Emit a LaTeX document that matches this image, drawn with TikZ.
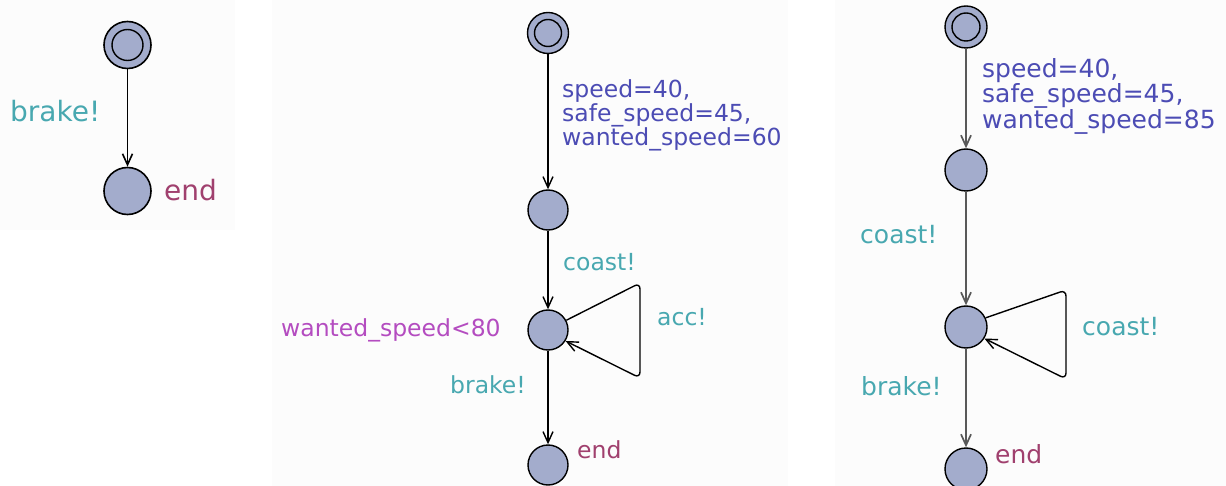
\documentclass[tikz,border=0pt]{standalone}
\usepackage{fontspec}
\setmainfont{DejaVu Sans}
\usetikzlibrary{arrows.meta}
\definecolor{locfill}{RGB}{163,172,204}
\definecolor{syncc}{RGB}{72,168,176}
\definecolor{assignc}{RGB}{76,76,180}
\definecolor{invc}{RGB}{180,76,192}
\definecolor{namec}{RGB}{160,64,110}
\definecolor{panel}{RGB}{252,252,252}
\tikzstyle{loc}=[circle,draw,fill=locfill,line width=1.4pt,minimum size=40pt,inner sep=0pt]
\tikzstyle{arr}=[-{Straight Barb[length=11pt,width=10pt]},line width=1.4pt]
\tikzstyle{lbl}=[inner sep=0pt,anchor=base west,font=\fontsize{23.5}{22}\selectfont]
\def\initring#1#2{\draw[line width=1.4pt] (#1.center) circle (#2);}

\begin{document}
\begin{tikzpicture}[x=1pt,y=-1pt]
\useasboundingbox (0,0) rectangle (1226,486);
\fill[panel] (0,0) rectangle (235,230);
\fill[panel] (272,0) rectangle (788,486);
\fill[panel] (835,0) rectangle (1226,486);
% first automaton
\node[loc,minimum size=47pt,line width=1.6pt] (i1) at (127.5,45) {};
\initring{i1}{15.5}
\node[loc,minimum size=47pt,line width=1.6pt] (e1) at (127.5,191) {};
\draw[arr,line width=1.6pt] (i1) -- (e1);
\node[lbl,text=syncc,font=\fontsize{28}{28}\selectfont] at (10,122) {brake!};
\node[lbl,text=namec,font=\fontsize{28}{28}\selectfont] at (164,201) {end};
% second automaton
\node[loc,minimum size=41pt] (i2) at (548,33) {};
\initring{i2}{13.5}
\node[loc] (a2) at (548,210) {};
\node[loc] (b2) at (548,330) {};
\node[loc] (e2) at (548,465) {};
\coordinate (t2) at (640,283);
\coordinate (u2) at (640,378);
\draw[arr] (i2) -- (a2);
\draw[arr] (a2) -- (b2);
\draw[arr] (b2) -- (e2);
\draw[arr,rounded corners=6pt] (b2.28) -- (t2) -- (u2) -- (b2.-32);
\node[lbl,text=assignc,align=left,anchor=north west] at (562,79.5)
  {speed=40,\\safe\_speed=45,\\wanted\_speed=60};
\node[lbl,text=syncc] at (563,271) {coast!};
\node[lbl,text=syncc] at (657,325) {acc!};
\node[lbl,text=invc] at (281,337) {wanted\_speed<80};
\node[lbl,text=syncc] at (450,393) {brake!};
\node[lbl,text=namec] at (577,458) {end};
% third automaton
\begin{scope}[arr/.append style={draw=black!65,line width=1.7pt}]
\node[loc,minimum size=42pt] (i3) at (966,27) {};
\initring{i3}{14}
\node[loc,minimum size=42pt] (a3) at (966,170) {};
\node[loc,minimum size=42pt] (b3) at (966,327) {};
\node[loc,minimum size=42pt] (e3) at (966,469) {};
\coordinate (t3) at (1066,290);
\coordinate (u3) at (1066,379);
\draw[arr] (i3) -- (a3);
\draw[arr] (a3) -- (b3);
\draw[arr] (b3) -- (e3);
\draw[arr,draw=black,line width=1.4pt,rounded corners=6pt] (b3.25) -- (t3) -- (u3) -- (b3.-32);
\node[lbl,text=assignc,align=left,anchor=north west,font=\fontsize{25}{23.5}\selectfont] at (982,58.5)
  {speed=40,\\safe\_speed=45,\\wanted\_speed=85};
\node[lbl,text=syncc,font=\fontsize{25}{23.5}\selectfont] at (860,244) {coast!};
\node[lbl,text=syncc,font=\fontsize{25}{23.5}\selectfont] at (1082,335) {coast!};
\node[lbl,text=syncc,font=\fontsize{25}{23.5}\selectfont] at (861,395) {brake!};
\node[lbl,text=namec,font=\fontsize{25}{23.5}\selectfont] at (995,463) {end};
\end{scope}
\end{tikzpicture}
\end{document}
